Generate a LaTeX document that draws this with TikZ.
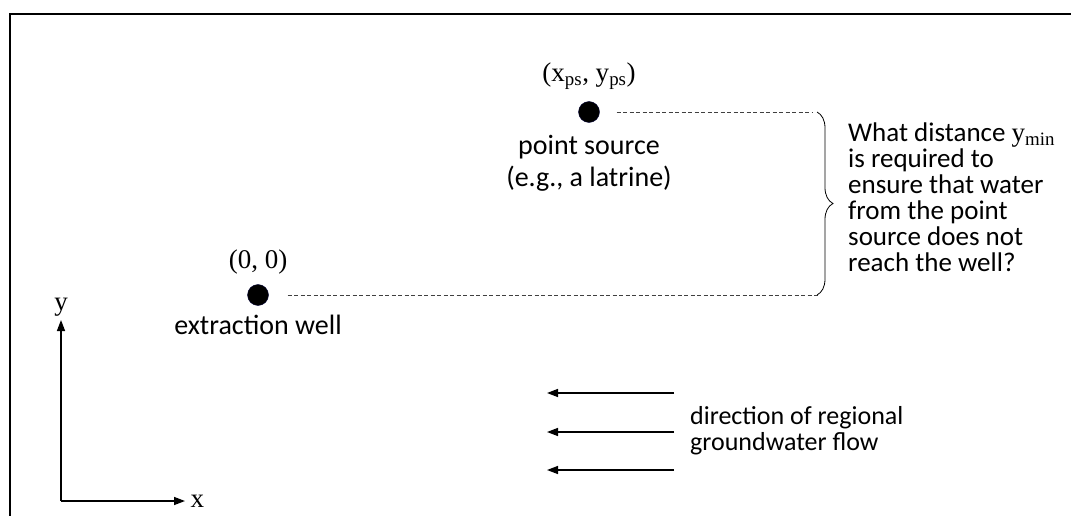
\documentclass[tikz,border=0pt]{standalone}
\usepackage{fontspec}
\setmainfont{Carlito}
\newfontfamily\tms{Liberation Serif}
\usepackage{tikz}
\usetikzlibrary{arrows.meta,positioning,calc,decorations.pathreplacing}

\begin{document}
\begin{tikzpicture}[x=1pt,y=-1pt,
    dot/.style={circle, fill=black, draw=black!80!blue, inner sep=0pt, minimum size=21pt},
    lbl/.style={font=\fontsize{28}{32}\selectfont, align=center, inner sep=0pt},
    coord/.style={font=\tms\fontsize{27}{30}\selectfont, inner sep=0pt},
    note/.style={font=\fontsize{27}{26}\selectfont, align=left, inner sep=0pt},
    guide/.style={line width=0.7pt, black!75, dash pattern=on 4pt off 2.5pt},
    flow/.style={line width=1.4pt, -{Triangle[length=11pt,width=8pt]}}]
    \useasboundingbox (0,0) rectangle (1071,516);

    % frame (cut off at right and bottom)
    \draw[line width=2pt] (10,516) -- (10,14) -- (1071,14);

    % point source
    \node[dot] (src) at (589,112) {};
    \node[coord, above=12pt of src] (srcxy) {(x\textsubscript{ps}, y\textsubscript{ps})};
    \node[lbl, below=12pt of src] (srclbl) {point source\\(e.g., a latrine)};

    % extraction well
    \node[dot] (well) at (258,295) {};
    \node[coord, above=10pt of well] (wellxy) {(0, 0)};
    \node[lbl, below=9pt of well] (welllbl) {extraction well};

    % guide lines to the brace
    \coordinate (bTop) at (812,112);
    \coordinate (bBot) at (820,295);
    \draw[guide] ($(src.east)+(17,0)$) -- (bTop);
    \draw[guide] ($(well.east)+(19,0)$) -- (bBot);
    \draw[line width=0.8pt, decorate, decoration={brace, amplitude=16pt}]
        (817,112) -- (817,295);
    \node[note, anchor=west] (question) at (848,197)
        {What distance {\tms y\textsubscript{min}}\\is required to\\ensure that water\\from the point\\source does not\\reach the well?};

    % axes
    \coordinate (origin) at (61,501);
    \draw[flow] (origin) -- (61,320) node[coord, above=3pt] (ylbl) {y};
    \draw[flow] (origin) -- (185,501) node[coord, right=5pt] (xlbl) {x};

    % regional flow
    \foreach \i/\yy in {1/393, 2/432, 3/470} {
        \coordinate (fs\i) at (674,\yy);
        \coordinate (fe\i) at (547,\yy);
        \draw[flow] (fs\i) -- (fe\i);
    }
    \node[note, anchor=west, font=\fontsize{26}{26}\selectfont] (flowlbl) at (690,431) {direction of regional\\groundwater flow};
\end{tikzpicture}
\end{document}
